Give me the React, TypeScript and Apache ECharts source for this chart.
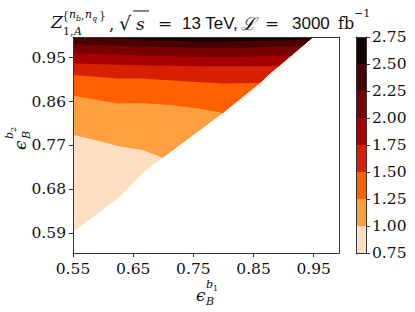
import React, { useEffect, useRef } from 'react';
import * as echarts from 'echarts';

// ---------- data ----------
const levels = [0.75, 1.0, 1.25, 1.5, 1.75, 2.0, 2.25, 2.5, 2.75];
const bandColors = ['#ffdfbf', '#ff9f40', '#ff6000', '#d72000', '#a70000', '#780000', '#480000', '#180000'];
const xTicks = [0.55, 0.65, 0.75, 0.85, 0.95];
const yTicks = [0.59, 0.68, 0.77, 0.86, 0.95];
const AX_MIN = 0.55;
const AX_MAX = 0.992;

// edge of the computed region (lower-right limit), bottom-left to top
const edge: number[][] = [
  [0.55, 0.593], [0.628, 0.665], [0.666, 0.714], [0.699, 0.745],
  [0.799, 0.8365], [0.8606, 0.898], [0.874, 0.9136], [0.9487, 0.992],
];

// contour lines (level 1.00 ... 2.50)
const c100 = [[0.55, 0.792], [0.597, 0.778], [0.628, 0.768], [0.666, 0.761], [0.699, 0.745]];
const c125 = [[0.55, 0.872], [0.625, 0.856], [0.663, 0.857], [0.711, 0.853], [0.761, 0.845], [0.799, 0.8365]];
const c150 = [[0.55, 0.914], [0.625, 0.907], [0.661, 0.907], [0.744, 0.901], [0.799, 0.897], [0.8606, 0.898]];
const c175 = [[0.55, 0.938], [0.661, 0.934], [0.761, 0.932], [0.827, 0.932], [0.892, 0.932]];
const c200 = [[0.55, 0.959], [0.661, 0.954], [0.761, 0.951], [0.827, 0.951], [0.877, 0.953], [0.912, 0.953]];
const c225 = [[0.55, 0.977], [0.661, 0.9725], [0.761, 0.9695], [0.827, 0.9695], [0.894, 0.9725], [0.931, 0.973]];
const c250 = [[0.55, 0.994], [0.6115, 0.99], [0.6945, 0.985], [0.761, 0.983], [0.844, 0.984], [0.9105, 0.986], [0.942, 0.985]];
const contours = [c100, c125, c150, c175, c200, c225, c250];

// ---------- build polygons ----------
function regionAbove(line: number[][]) {
  const last = line[line.length - 1];
  const pts = line.slice();
  edge.forEach((p) => {
    if (p[0] > last[0] + 1e-6 && p[1] > last[1]) pts.push(p);
  });
  pts.push([AX_MIN, AX_MAX + 0.01]);
  return pts;
}
const regions: number[][][] = [[...edge, [AX_MIN, AX_MAX + 0.01]], ...contours.map(regionAbove)];

const SERIF = 'DejaVu Serif';
const SANS = 'Liberation Sans';
const TXT = '#111';
const LINE = '#333';
const TICK_FS = 15.5;

function t(text: string, x: number, y: number, size: number, opts: any = {}) {
  return {
    type: 'text',
    x,
    y,
    rotation: opts.rotation || 0,
    style: {
      text,
      fontSize: size,
      fontFamily: opts.family || SERIF,
      fontStyle: opts.italic ? 'italic' : 'normal',
      fill: TXT,
      align: opts.align || 'left',
      verticalAlign: 'middle',
    },
  };
}

export default function App() {
  const ref = useRef<HTMLDivElement>(null);
  useEffect(() => {
    if (!ref.current) return;
    const chart = echarts.init(ref.current, null, { renderer: 'svg' });
    const lineStyle = { color: LINE, width: 1 };
    const frameX = (gridIndex: number, position: string, min: number, max: number) => ({
      type: 'value', gridIndex, position, min, max, z: 10,
      axisLine: { show: true, onZero: false, lineStyle },
      axisTick: { show: false }, axisLabel: { show: false }, splitLine: { show: false },
    });
    const labelStyle = { fontFamily: SERIF, fontSize: TICK_FS, color: TXT };
    const option: any = {
      animation: false,
      backgroundColor: '#fff',
      textStyle: { fontFamily: SERIF },
      grid: [
        { left: 73, top: 37, width: 266, height: 216 },
        { left: 356, top: 37, width: 10, height: 216 },
      ],
      xAxis: [
        {
          type: 'value', gridIndex: 0, position: 'bottom', min: AX_MIN, max: AX_MAX, z: 10,
          axisLine: { show: true, onZero: false, lineStyle },
          axisTick: { show: true, customValues: xTicks, length: 4, lineStyle },
          axisLabel: {
            customValues: xTicks, formatter: (v: number) => v.toFixed(2), margin: 8, ...labelStyle,
          },
          splitLine: { show: false },
        },
        frameX(0, 'top', AX_MIN, AX_MAX),
        frameX(1, 'bottom', 0, 1),
        frameX(1, 'top', 0, 1),
      ],
      yAxis: [
        {
          type: 'value', gridIndex: 0, position: 'left', min: AX_MIN, max: AX_MAX, z: 10,
          axisLine: { show: true, onZero: false, lineStyle },
          axisTick: { show: true, customValues: yTicks, length: 4, lineStyle },
          axisLabel: {
            customValues: yTicks, formatter: (v: number) => v.toFixed(2), margin: 7, ...labelStyle,
          },
          splitLine: { show: false },
        },
        frameX(0, 'right', AX_MIN, AX_MAX),
        {
          type: 'value', gridIndex: 1, position: 'right', min: 0.75, max: 2.75, interval: 0.25, z: 10,
          axisLine: { show: true, onZero: false, lineStyle },
          axisTick: { show: true, length: 4, lineStyle },
          axisLabel: { formatter: (v: number) => v.toFixed(2), margin: 6, ...labelStyle },
          splitLine: { show: false },
        },
        frameX(1, 'left', 0.75, 2.75),
      ],
      series: [
        {
          type: 'custom',
          xAxisIndex: 0,
          yAxisIndex: 0,
          clip: true,
          data: regions.map((_, i) => [i]),
          renderItem: (params: any, api: any) => {
            const i = params.dataIndex;
            const pts = regions[i].map((p) => api.coord(p));
            return { type: 'polygon', shape: { points: pts }, style: { fill: bandColors[i] } };
          },
        },
        {
          type: 'custom',
          xAxisIndex: 2,
          yAxisIndex: 2,
          data: bandColors.map((_, i) => [levels[i], levels[i + 1]]),
          encode: { y: [0, 1] },
          renderItem: (params: any, api: any) => {
            const lo = api.value(0);
            const hi = api.value(1);
            const p1 = api.coord([0, hi]);
            const p2 = api.coord([1, lo]);
            return {
              type: 'rect',
              shape: { x: p1[0], y: p1[1], width: p2[0] - p1[0], height: p2[1] - p1[1] },
              style: { fill: bandColors[params.dataIndex] },
            };
          },
        },
      ],
      graphic: [
        // title
        t('Z', 51, 22, 17, { italic: true }),
        t('{', 62, 15, 11),
        t('n', 69, 14, 11, { italic: true }),
        t('b', 76, 18, 8, { italic: true }),
        t(',', 81, 15, 11),
        t('n', 85, 14, 11, { italic: true }),
        t('q', 92, 18, 8, { italic: true }),
        t('}', 99, 15, 11),
        t('1,', 63, 31, 11),
        t('A', 74, 31, 11, { italic: true }),
        t(',', 109, 24, 17),
        t('√', 119, 23, 19, { family: 'DejaVu Sans' }),
        t('s', 136, 24, 17, { italic: true }),
        { type: 'line', shape: { x1: 133, y1: 11, x2: 149, y2: 11 }, style: { stroke: TXT, lineWidth: 1 } },
        t('=', 158, 23, 17),
        t('13 TeV,', 182, 23, 17, { family: SANS }),
        t('ℒ', 241, 23, 18, { italic: true }),
        t('=', 265, 23, 17),
        t('3000', 292, 23, 17, { family: SANS }),
        t('fb', 338, 23, 16),
        t('−1', 354, 13, 11),
        // x axis title
        t('ϵ', 196, 295, 17, { italic: true }),
        t('b', 206, 284, 11, { italic: true }),
        t('1', 213, 288, 8),
        t('B', 206, 301, 11, { italic: true }),
        // y axis title (rotated)
        t('ϵ', 20, 150, 17, { italic: true, rotation: Math.PI / 2 }),
        t('b', 9, 139, 11, { italic: true, rotation: Math.PI / 2 }),
        t('2', 13, 132, 8, { rotation: Math.PI / 2 }),
        t('B', 26, 139, 11, { italic: true, rotation: Math.PI / 2 }),
      ],
    };
    chart.setOption(option);
    return () => chart.dispose();
  }, []);
  return <div ref={ref} style={{ position: 'fixed', left: 0, top: 0, width: 415, height: 312 }} />;
}
